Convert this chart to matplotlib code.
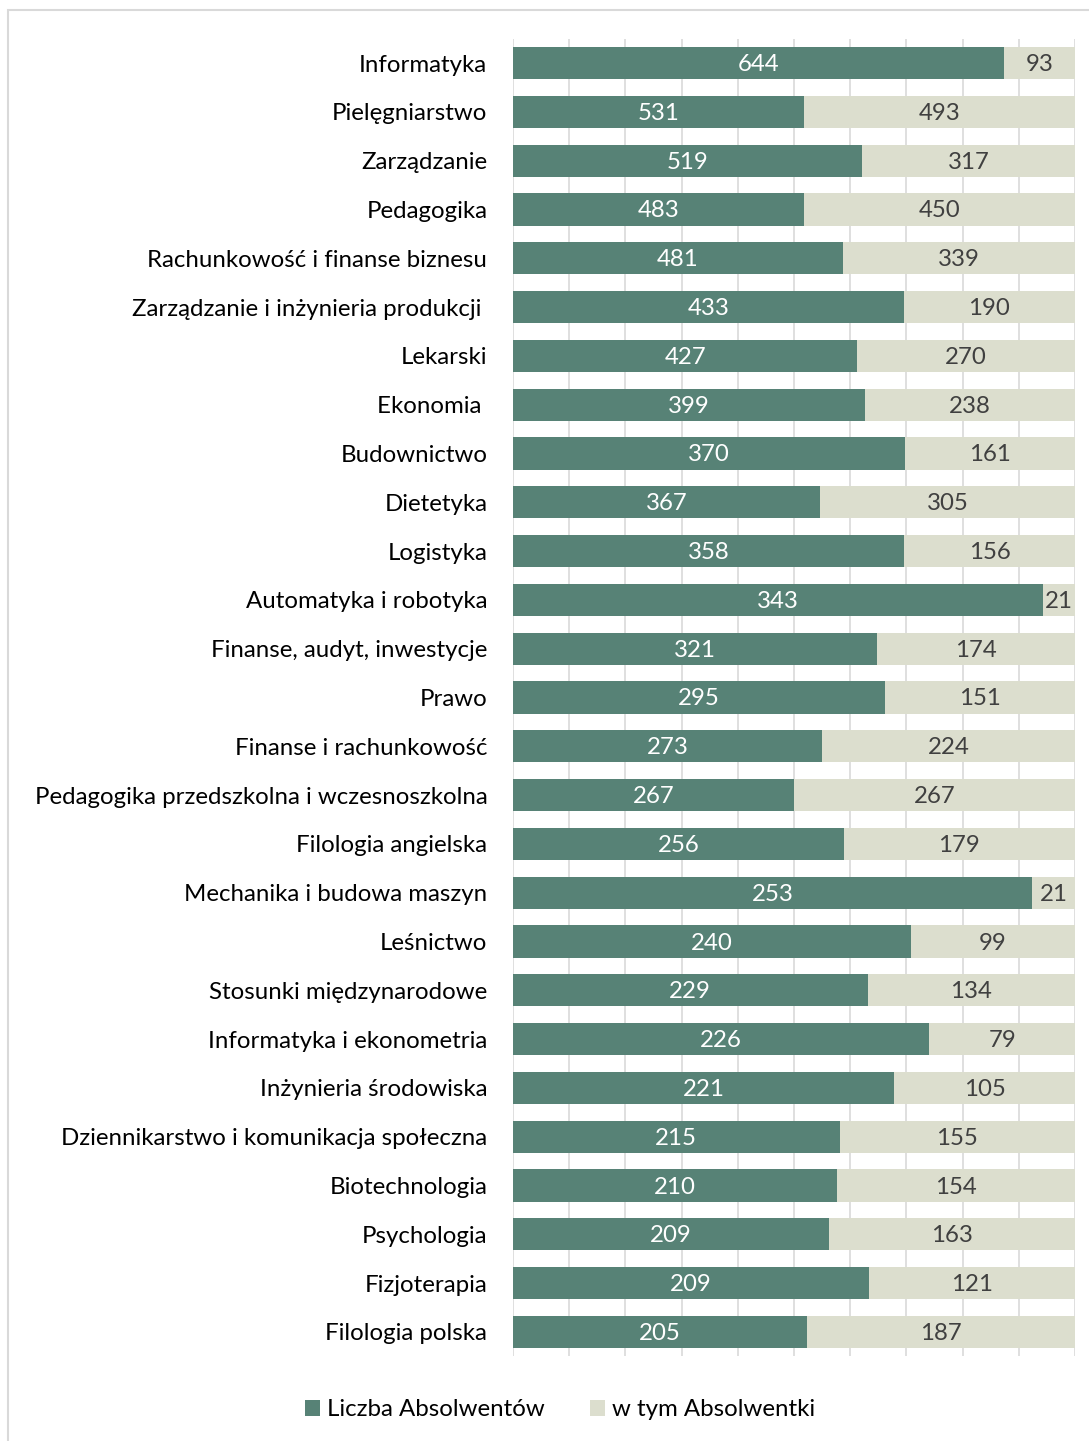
import numpy as np
import matplotlib.pyplot as plt
from matplotlib.patches import Rectangle

kierunki = [
    "Informatyka", "Pielęgniarstwo", "Zarządzanie", "Pedagogika",
    "Rachunkowość i finanse biznesu", "Zarządzanie i inżynieria produkcji ",
    "Lekarski", "Ekonomia ", "Budownictwo", "Dietetyka", "Logistyka",
    "Automatyka i robotyka", "Finanse, audyt, inwestycje", "Prawo",
    "Finanse i rachunkowość", "Pedagogika przedszkolna i wczesnoszkolna",
    "Filologia angielska", "Mechanika i budowa maszyn", "Leśnictwo",
    "Stosunki międzynarodowe", "Informatyka i ekonometria",
    "Inżynieria środowiska", "Dziennikarstwo i komunikacja społeczna",
    "Biotechnologia", "Psychologia", "Fizjoterapia", "Filologia polska",
]
absolwenci = [644, 531, 519, 483, 481, 433, 427, 399, 370, 367, 358, 343, 321,
              295, 273, 267, 256, 253, 240, 229, 226, 221, 215, 210, 209, 209, 205]
absolwentki = [93, 493, 317, 450, 339, 190, 270, 238, 161, 305, 156, 21, 174,
               151, 224, 267, 179, 21, 99, 134, 79, 105, 155, 154, 163, 121, 187]

GREEN = "#578276"
BEIGE = "#DCDECE"
FS = 17.3

plt.rcParams['font.family'] = ['Lato', 'DejaVu Sans']

a = np.array(absolwenci, dtype=float)
k = np.array(absolwentki, dtype=float)
tot = a + k
fa = a / tot
fk = k / tot
y = np.arange(len(kierunki))

fig = plt.figure(figsize=(10.89, 14.41), dpi=100)
ax = fig.add_axes([513 / 1089, 1 - 1356.4 / 1441, (1075 - 513) / 1089, (1356.4 - 38.6) / 1441])

b1 = ax.barh(y, fa, height=0.66, color=GREEN, label="Liczba Absolwentów", zorder=2)
b2 = ax.barh(y, fk, left=fa, height=0.66, color=BEIGE, label="w tym Absolwentki", zorder=2)

for i in range(len(y)):
    ax.text(fa[i] / 2, y[i] + 0.03, f"{absolwenci[i]}", ha="center", va="center",
            color="white", fontsize=FS)
    ax.text(fa[i] + fk[i] / 2, y[i] + 0.03, f"{absolwentki[i]}", ha="center", va="center",
            color="#404040", fontsize=FS)

ax.set_xlim(0, 1)
ax.set_ylim(len(y) - 0.5, -0.5)
ax.set_xticks(np.linspace(0, 1, 11))
ax.xaxis.grid(True, color="#D9D9D9", linewidth=1.2, zorder=0)
ax.set_axisbelow(True)
ax.tick_params(axis="x", length=0, labelbottom=False)
ax.tick_params(axis="y", length=0, pad=18.5)
ax.set_yticks(y)
ax.set_yticklabels(kierunki, fontsize=FS, color="black")
for s in ax.spines.values():
    s.set_visible(False)

fig.patches.append(Rectangle((8 / 1089, -0.05), 1.2, 1 - 10 / 1441 + 0.05,
                             transform=fig.transFigure, fill=False,
                             edgecolor="#D9D9D9", linewidth=1.5))

fig.legend(handles=[b1, b2], loc="center", bbox_to_anchor=(560 / 1089, 1 - 1410 / 1441),
           ncol=2, frameon=False, fontsize=FS, handlelength=0.6, handleheight=0.6,
           handletextpad=0.3, columnspacing=1.9)

fig.savefig("out.png", dpi=100)
